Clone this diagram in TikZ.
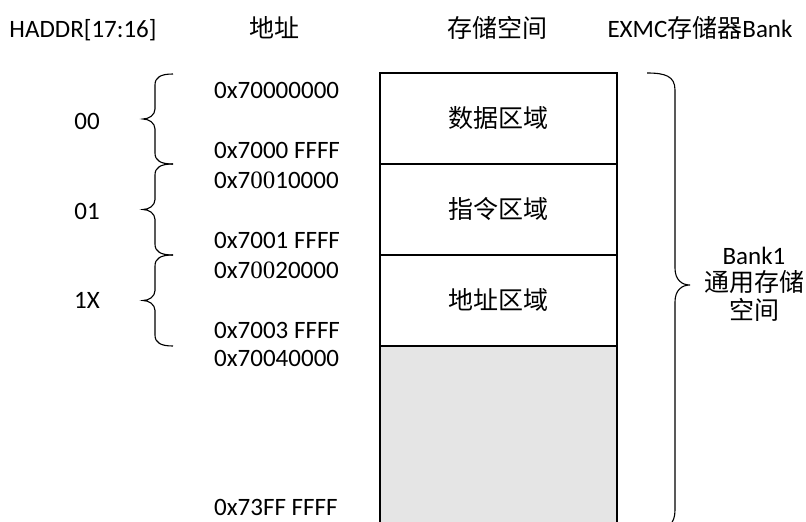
\documentclass[tikz,border=0pt]{standalone}
\usepackage{fontspec}
\setmainfont{Carlito}
\newfontfamily\cjk{Noto Sans CJK SC}
\newfontfamily\serifnum{Liberation Serif}
\tikzset{
  lbl/.style={inner sep=0pt, anchor=base, font=\fontsize{25}{29}\selectfont},
  addr/.style={inner sep=0pt, anchor=base west, font=\fontsize{25}{29}\selectfont},
  memblock/.style={draw, line width=1.1pt, minimum width=237pt, inner sep=0pt},
  brace/.style={line width=1.1pt}
}
\newcommand\bracel[3]{%
  \pgfmathsetmacro\ym{(#2+#3)/2}
  \draw[brace] (#1,#2) .. controls (#1-12,#2) and (#1-18,#2+3) .. (#1-18,#2+11)
    -- (#1-18,\ym-10) .. controls (#1-18,\ym-4) and (#1-24,\ym) .. (#1-30,\ym)
    .. controls (#1-24,\ym) and (#1-18,\ym+4) .. (#1-18,\ym+10)
    -- (#1-18,#3-11) .. controls (#1-18,#3-3) and (#1-12,#3) .. (#1,#3);}
\begin{document}
\begin{tikzpicture}[x=1pt,y=-1pt]
\useasboundingbox (0,0) rectangle (806,522);
\clip (0,0) rectangle (806,522);
% headers
\node[lbl] (h1) at (83,37) {HADDR[17:16]};
\node[lbl] (h2) at (274,37) {\cjk 地址};
\node[lbl] (h3) at (497,37) {\cjk 存储空间};
\node[lbl] (h4) at (700,37) {EXMC{\cjk 存储器}Bank};
% memory blocks
\node[memblock, minimum height=91pt] (b1) at (498.5,118.5) {};
\node[memblock, minimum height=91pt] (b2) at (498.5,209.5) {};
\node[memblock, minimum height=91pt] (b3) at (498.5,300.5) {};
\node[memblock, minimum height=190pt, fill={rgb,255:red,229;green,229;blue,229}] (b4) at (498.5,441) {};
\node[lbl] (t1) at (b1.center) [yshift=-9pt] {\cjk 数据区域};
\node[lbl] (t2) at (b2.center) [yshift=-9pt] {\cjk 指令区域};
\node[lbl] (t3) at (b3.center) [yshift=-9pt] {\cjk 地址区域};
% addresses
\node[addr] (a1) at (214,98) {0x70000000};
\node[addr] (a2) at (214,158) {0x7000 FFFF};
\node[addr] (a3) at (214,188) {0x7{\serifnum 00}10000};
\node[addr] (a4) at (214,248) {0x7001 FFFF};
\node[addr] (a5) at (214,278) {0x7{\serifnum 00}20000};
\node[addr] (a6) at (214,338) {0x7003 FFFF};
\node[addr] (a7) at (214,366) {0x70040000};
\node[addr] (a8) at (214,515) {0x73FF FFFF};
% left braces
\bracel{173}{74}{164}
\bracel{173}{164}{255}
\bracel{173}{255}{346}
\node[lbl] (k1) at (87,129) {00};
\node[lbl] (k2) at (87,219) {01};
\node[lbl] (k3) at (87,308) {1X};
% right brace
\draw[brace] (647,73) .. controls (665,73) and (675,76) .. (675,90)
  -- (675,268) .. controls (675,280) and (682,285) .. (690,285)
  .. controls (682,285) and (675,290) .. (675,302)
  -- (675,510) .. controls (675,524) and (668,530) .. (650,532);
\node[inner sep=0pt, align=center, font=\fontsize{25}{27.5}\selectfont] (r1) at (754,284)
  {Bank1\\{\cjk 通用存储}\\{\cjk 空间}};
\end{tikzpicture}
\end{document}
